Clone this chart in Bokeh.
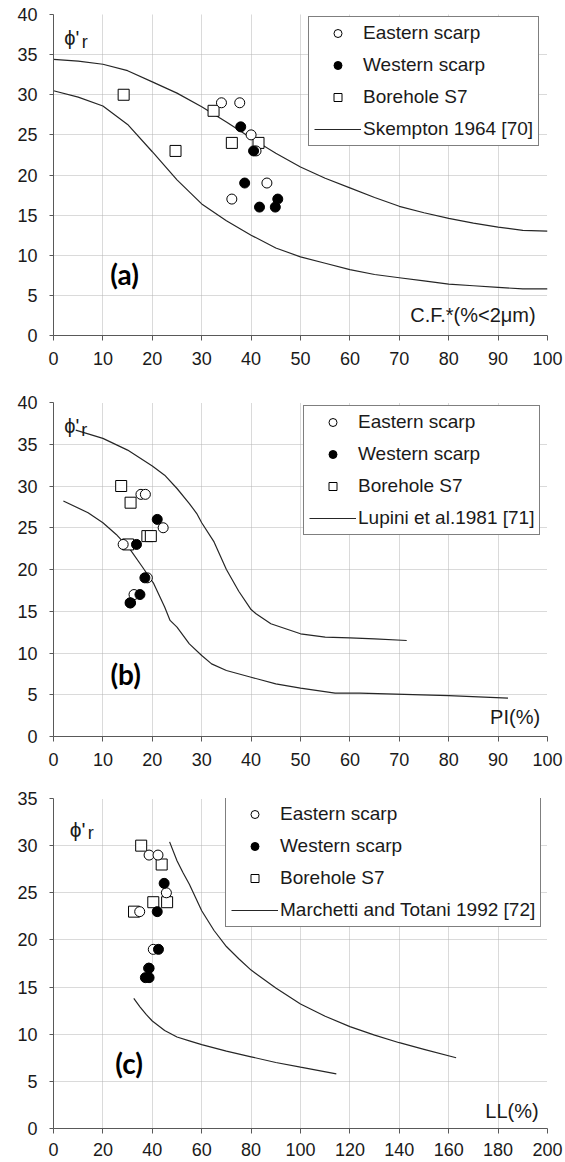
from bokeh.plotting import figure
from bokeh.models import Range1d, FixedTicker, Legend, LegendItem, Label
from bokeh.layouts import column
from bokeh.embed import file_html
from bokeh.resources import INLINE

FONT = "Liberation Sans"

# ---------------- data: panel (a) clay fraction ----------------
a_east_cf = [34.0, 37.7, 40.0, 41.0, 43.2, 36.1]
a_east_phi = [29, 29, 25, 23, 19, 17]
a_west_cf = [37.9, 40.5, 38.7, 41.7, 44.9, 45.4]
a_west_phi = [26, 23, 19, 16, 16, 17]
a_bh_cf = [14.2, 24.7, 32.4, 36.1, 41.5]
a_bh_phi = [30, 23, 28, 24, 24]
sk_cf = [0, 5, 10, 15, 20, 25, 30, 35, 40, 45, 50, 55, 60, 65, 70, 75, 80, 85, 90, 95, 100]
sk_upper = [34.4, 34.2, 33.8, 33.0, 31.6, 30.2, 28.5, 26.6, 24.6, 22.7, 21.0, 19.6, 18.4,
            17.2, 16.1, 15.3, 14.6, 14.0, 13.5, 13.1, 13.0]
sk_lower = [30.5, 29.7, 28.6, 26.3, 22.9, 19.4, 16.4, 14.3, 12.5, 10.9, 9.8, 9.0, 8.2,
            7.6, 7.2, 6.8, 6.4, 6.2, 6.0, 5.8, 5.8]

# ---------------- data: panel (b) plasticity index ----------------
b_east_pi = [17.7, 18.6, 22.2, 14.1, 19.0, 16.3]
b_east_phi = [29, 29, 25, 23, 19, 17]
b_west_pi = [21.0, 16.8, 18.5, 17.5, 15.5, 15.6]
b_west_phi = [26, 23, 19, 17, 16, 16]
b_bh_pi = [13.7, 15.6, 19.0, 19.7, 15.1]
b_bh_phi = [30, 28, 24, 24, 23]
lu_up_pi = [4.5, 10, 15, 20, 22.5, 25, 27.5, 29, 30, 32.5, 35, 37.5, 40, 41, 44, 50, 55, 60, 65, 71.5]
lu_up = [36.7, 35.7, 34.3, 32.4, 31.3, 29.7, 27.9, 26.7, 25.6, 23.3, 20.0, 17.4, 15.2, 14.7,
         13.5, 12.3, 11.9, 11.8, 11.7, 11.5]
lu_lo_pi = [2, 7, 10, 12.7, 15.5, 18, 20.3, 22.5, 23.6, 25, 27.5, 30, 32, 35, 40, 45, 50, 57, 62, 80, 92]
lu_lo = [28.2, 26.8, 25.6, 24.2, 22.4, 20.3, 18.3, 15.5, 13.9, 13.1, 11.1, 9.7, 8.7, 7.9, 7.1,
         6.3, 5.8, 5.2, 5.2, 4.9, 4.6]

# ---------------- data: panel (c) liquid limit ----------------
c_east_ll = [38.7, 42.3, 45.7, 34.9, 40.4, 38.5]
c_east_phi = [29, 29, 25, 23, 19, 17]
c_west_ll = [44.8, 42.0, 42.5, 38.7, 37.2, 38.7]
c_west_phi = [26, 23, 19, 17, 16, 16]
c_bh_ll = [35.5, 43.8, 40.4, 46.0, 32.6]
c_bh_phi = [30, 28, 24, 24, 23]
mt_up_ll = [47, 50, 52.5, 55, 57.5, 60, 65, 70, 75, 80, 90, 100, 110, 120, 130, 140, 150, 163]
mt_up = [30.4, 28.4, 27.1, 25.9, 24.5, 23.1, 21.0, 19.3, 18.0, 16.8, 14.9, 13.2, 11.9,
         10.8, 9.9, 9.1, 8.4, 7.5]
mt_lo_ll = [32.5, 35, 37.5, 40, 45, 50, 55, 60, 70, 80, 90, 100, 114.5]
mt_lo = [13.8, 12.9, 12.1, 11.4, 10.4, 9.7, 9.3, 8.9, 8.2, 7.6, 7.0, 6.5, 5.8]

legend_labels = ["Eastern scarp", "Western scarp", "Borehole S7"]


def base_fig(height, xmax, xstep, ymax, top, bottom, left, right, xstandoff):
    p = figure(width=565, height=height, x_range=Range1d(0, xmax), y_range=Range1d(0, ymax),
               output_backend="svg", toolbar_location=None,
               min_border_top=top, min_border_bottom=bottom,
               min_border_left=left, min_border_right=right)
    p.outline_line_color = None
    p.xaxis.ticker = FixedTicker(ticks=list(range(0, xmax + 1, xstep)))
    p.yaxis.ticker = FixedTicker(ticks=list(range(0, ymax + 1, 5)))
    for ax in (p.xaxis, p.yaxis):
        ax.axis_line_color = "#595959"
        ax.major_tick_line_color = "#595959"
        ax.minor_tick_line_color = None
        ax.major_tick_in = 0
        ax.major_label_text_font = FONT
        ax.major_label_text_font_size = "18px"
        ax.major_label_text_color = "#1a1a1a"
    p.xaxis.major_tick_out = 5
    p.yaxis.major_tick_out = 4
    p.xaxis.major_label_standoff = xstandoff
    p.yaxis.major_label_standoff = 12
    p.grid.grid_line_color = "#b5b5b5"
    p.grid.grid_line_dash = "1 1"
    p.grid.grid_line_width = 1
    return p


def add_points(p, ex, ey, wx, wy, bx, by):
    rb = p.scatter(bx, by, marker="square", size=11, fill_color="white",
                   line_color="black", line_width=1)
    re = p.scatter(ex, ey, marker="circle", size=10, fill_color="white",
                   line_color="black", line_width=1)
    rw = p.scatter(wx, wy, marker="circle", size=10, fill_color="black",
                   line_color="black", line_width=1)
    return re, rw, rb


def add_legend(p, rends, curve_label, loc, fsize):
    items = [LegendItem(label=lab, renderers=[r]) for lab, r in zip(legend_labels, rends[:3])]
    items.append(LegendItem(label=curve_label, renderers=[rends[3]]))
    lg = Legend(items=items, location=loc, margin=0, padding=5, spacing=10,
                glyph_width=47, glyph_height=20, label_height=20, label_standoff=2,
                label_text_font=FONT, label_text_font_size=fsize,
                label_text_color="#1a1a1a",
                border_line_color="black", border_line_width=1,
                background_fill_color="white", background_fill_alpha=1.0)
    p.add_layout(lg)


def add_texts(p, phi_x, phi_y, r_x, r_y, tag, tag_x, tag_y, title, title_x, title_y, fs_phi):
    p.add_layout(Label(x=phi_x, y=phi_y, text="ϕ'", text_font=FONT, text_font_size=fs_phi,
                       text_color="#1a1a1a", text_baseline="alphabetic"))
    p.add_layout(Label(x=r_x, y=r_y, text="r", text_font=FONT, text_font_size="18px",
                       text_color="#1a1a1a", text_baseline="alphabetic"))
    p.add_layout(Label(x=tag_x, y=tag_y, text=tag, text_font="Lato", text_font_style="bold",
                       text_font_size="28px", text_color="black",
                       text_align="center", text_baseline="middle"))
    p.add_layout(Label(x=title_x, y=title_y, text=title, text_font=FONT, text_font_size="20px",
                       text_color="#1a1a1a", text_align="right", text_baseline="middle"))


# ---------------- panel (a) ----------------
pa = base_fig(385, 100, 10, 40, 14, 50, 52, 18, 11)
la1 = pa.line(sk_cf, sk_upper, line_color="#262626", line_width=1.2)
pa.line(sk_cf, sk_lower, line_color="#262626", line_width=1.2)
ra = add_points(pa, a_east_cf, a_east_phi, a_west_cf, a_west_phi, a_bh_cf, a_bh_phi)
add_legend(pa, list(ra) + [la1], "Skempton 1964 [70]", (255, 189), "19px")
add_texts(pa, 2.2, 37.1, 5.7, 36.6, "(a)", 14.4, 7.7, "C.F.*(%<2μm)", 97.6, 2.6, "20px")

# ---------------- panel (b) ----------------
pb = base_fig(395, 100, 10, 40, 17, 44, 52, 18, 11)
lb1 = pb.line(lu_up_pi, lu_up, line_color="#262626", line_width=1.2)
pb.line(lu_lo_pi, lu_lo, line_color="#262626", line_width=1.2)
rb = add_points(pb, b_east_pi, b_east_phi, b_west_pi, b_west_phi, b_bh_pi, b_bh_phi)
add_legend(pb, list(rb) + [lb1], "Lupini et al.1981 [71]", (250, 201), "19px")
add_texts(pb, 2.2, 37.2, 5.6, 36.7, "(b)", 14.6, 7.5, "PI(%)", 98.5, 2.3, "20px")

# ---------------- panel (c) ----------------
pc = base_fig(382, 200, 20, 35, 18, 34, 53, 16, 9)
lc1 = pc.line(mt_up_ll, mt_up, line_color="#262626", line_width=1.2)
pc.line(mt_lo_ll, mt_lo, line_color="#262626", line_width=1.2)
rc = add_points(pc, c_east_ll, c_east_phi, c_west_ll, c_west_phi, c_bh_ll, c_bh_phi)
add_legend(pc, list(rc) + [lc1], "Marchetti and Totani 1992 [72]", (172, 201), "19px")
add_texts(pc, 6.6, 31.7, 13.9, 31.3, "(c)", 30.6, 7.0, "LL(%)", 196.4, 1.9, "21px")

layout = column(pa, pb, pc, spacing=0)
open("out.html", "w").write(file_html(layout, INLINE))
